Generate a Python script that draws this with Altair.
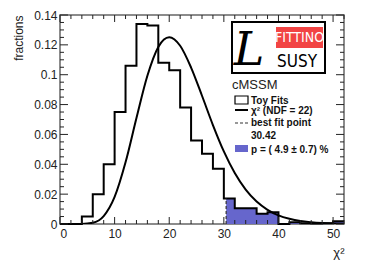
import altair as alt
import pandas as pd

# ---- data ----
bin_lo = list(range(0, 52, 2))
toy_frac = [0.0, 0.0, 0.005, 0.020, 0.040, 0.075, 0.106, 0.134, 0.133, 0.108,
            0.103, 0.078, 0.056, 0.047, 0.037, 0.017, 0.0105, 0.0105, 0.0068, 0.0078,
            0.0, 0.0012, 0.0005, 0.0003, 0.0005, 0.0018]
chi2_x = list(range(0, 54, 2))
chi2_y = [0.0, 0.0, 0.00004, 0.0008, 0.0053, 0.0181, 0.0413, 0.0710, 0.0993, 0.1186,
          0.1251, 0.1194, 0.1048, 0.0859, 0.0663, 0.0486, 0.0341, 0.0230, 0.0150, 0.0095,
          0.0058, 0.0035, 0.0020, 0.0012, 0.0007, 0.0004, 0.0002]
best_fit = 30.42
x_labels = [0, 10, 20, 30, 40, 50]
y_labels = [0, 0.02, 0.04, 0.06, 0.08, 0.1, 0.12, 0.14]

W, H = 284, 209
FONT = "Liberation Sans"
BLUE = "#6666cc"

edges = bin_lo + [52]
hist_df = pd.DataFrame({"x": edges, "y": toy_frac + [toy_frac[-1]]})


def val_at(x):
    return toy_frac[min(int(x // 2), len(toy_frac) - 1)]


fill_x = [best_fit] + [e for e in edges if e > best_fit]
fill_df = pd.DataFrame({"x": fill_x, "y": [val_at(v) for v in fill_x]})
curve_df = pd.DataFrame({"x": chi2_x, "y": chi2_y})
bf_df = pd.DataFrame({"x": [best_fit], "y0": [0.0], "y": [val_at(best_fit)]})

xs = alt.Scale(domain=[0, 52], nice=False, zero=False)
ys = alt.Scale(domain=[0, 0.14], nice=False)

xaxis = alt.Axis(values=x_labels, ticks=False, domain=False, grid=False,
                 labelFont=FONT, labelFontSize=12, labelColor="#222", labelPadding=4,
                 title="χ²", titleFont=FONT, titleFontSize=13, titleFontWeight="normal",
                 titleColor="#222", titleX=W, titleY=22, titleAlign="right",
                 titleBaseline="top")
yaxis = alt.Axis(values=y_labels, ticks=False, domain=False, grid=False, format="~g",
                 labelFont=FONT, labelFontSize=12, labelColor="#222", labelPadding=3,
                 title="fractions", titleFont=FONT, titleFontSize=12,
                 titleFontWeight="normal", titleColor="#222", titleX=-42, titleY=0,
                 titleAlign="right", titleBaseline="middle", titleAngle=-90)


def X(f):
    return alt.X(f, type="quantitative", scale=xs, axis=xaxis)


def Y(f):
    return alt.Y(f, type="quantitative", scale=ys, axis=yaxis)


fill = alt.Chart(fill_df).mark_area(interpolate="step-after", color=BLUE, opacity=1).encode(
    x=X("x"), y=Y("y"))
hist = alt.Chart(hist_df).mark_line(interpolate="step-after", color="black",
                                    strokeWidth=2).encode(x=X("x"), y=Y("y"))
curve = alt.Chart(curve_df).mark_line(interpolate="monotone", color="black",
                                      strokeWidth=2, clip=True).encode(x=X("x"), y=Y("y"))
bf = alt.Chart(bf_df).mark_rule(color="#333", strokeDash=[3, 2], strokeWidth=1.2).encode(
    x=X("x"), y=Y("y0"), y2="y")

# ---- inward ROOT-style ticks ----
xt_major = pd.DataFrame({"x": x_labels})
xt_minor = pd.DataFrame({"x": [v for v in range(0, 54, 2) if v % 10]})
yt_all = [round(i * 0.005, 3) for i in range(29)]
yt_major = pd.DataFrame({"y": [v for i, v in enumerate(yt_all) if i % 4 == 0]})
yt_minor = pd.DataFrame({"y": [v for i, v in enumerate(yt_all) if i % 4]})

TC = "#222"
ticks = []
for df, ln in [(xt_major, 7), (xt_minor, 4)]:
    ticks.append(alt.Chart(df).mark_rule(color=TC).encode(
        x=X("x"), y=alt.value(H), y2=alt.value(H - ln)))
    ticks.append(alt.Chart(df).mark_rule(color=TC).encode(
        x=X("x"), y=alt.value(0), y2=alt.value(ln)))
for df, ln in [(yt_major, 8), (yt_minor, 4)]:
    ticks.append(alt.Chart(df).mark_rule(color=TC).encode(
        y=Y("y"), x=alt.value(0), x2=alt.value(ln)))
    ticks.append(alt.Chart(df).mark_rule(color=TC).encode(
        y=Y("y"), x=alt.value(W), x2=alt.value(W - ln)))

# ---- logo and legend annotations ----
one = pd.DataFrame({"a": [0]})


def rect(x1, x2, y1, y2, **kw):
    return alt.Chart(one).mark_rect(**kw).encode(
        x=alt.value(x1), x2=alt.value(x2), y=alt.value(y1), y2=alt.value(y2))


def text(t, x, y, **kw):
    return alt.Chart(one).mark_text(text=t, **kw).encode(x=alt.value(x), y=alt.value(y))


def hline(x1, x2, y, **kw):
    return alt.Chart(one).mark_rule(**kw).encode(
        x=alt.value(x1), x2=alt.value(x2), y=alt.value(y))


ann = [
    rect(172, 265, 7, 58, fill="white", stroke="black", strokeWidth=2),
    rect(216, 263, 12, 33, fill="#f24444"),
    text("L", 189, 50, font="DejaVu Serif", fontSize=46, fontStyle="italic",
         color="black", align="center", baseline="alphabetic"),
    text("FITTINO", 239.5, 23, font="DejaVu Sans Condensed", fontSize=14,
         color="white", align="center", baseline="middle"),
    text("SUSY", 237, 52, font="DejaVu Sans Condensed", fontSize=17,
         color="black", align="center", baseline="alphabetic"),
    text("cMSSM", 172, 74, font=FONT, fontSize=13, color="#222", align="left",
         baseline="alphabetic"),
    rect(175, 188, 81, 89, fill="white", stroke="black", strokeWidth=1.2),
    text("Toy Fits", 191, 89, font=FONT, fontSize=10, fontWeight="bold", color="#111",
         align="left", baseline="alphabetic"),
    hline(175, 188, 95, color="black", strokeWidth=2),
    text("χ² (NDF = 22)", 191, 99, font=FONT, fontSize=10, fontWeight="bold",
         color="#111", align="left", baseline="alphabetic"),
    hline(175, 188, 108, color="#333", strokeWidth=1.2, strokeDash=[3, 2]),
    text("best fit point", 191, 111, font=FONT, fontSize=10, fontWeight="bold",
         color="#111", align="left", baseline="alphabetic"),
    text("30.42", 191, 124, font=FONT, fontSize=10, fontWeight="bold", color="#111",
         align="left", baseline="alphabetic"),
    rect(175, 188, 130, 137, fill=BLUE),
    text("p = ( 4.9  ± 0.7) %", 191, 138, font=FONT, fontSize=10, fontWeight="bold",
         color="#111", align="left", baseline="alphabetic"),
]

chart = alt.layer(fill, hist, curve, bf, *ticks, *ann).properties(
    width=W, height=H,
    autosize=alt.AutoSizeParams(type="none"),
    padding={"left": 52, "top": 7, "right": 22, "bottom": 36},
    background="white",
).configure_view(stroke="#666", strokeWidth=1.5)

chart.save("out.html", embed_options={"renderer": "svg", "actions": False})
